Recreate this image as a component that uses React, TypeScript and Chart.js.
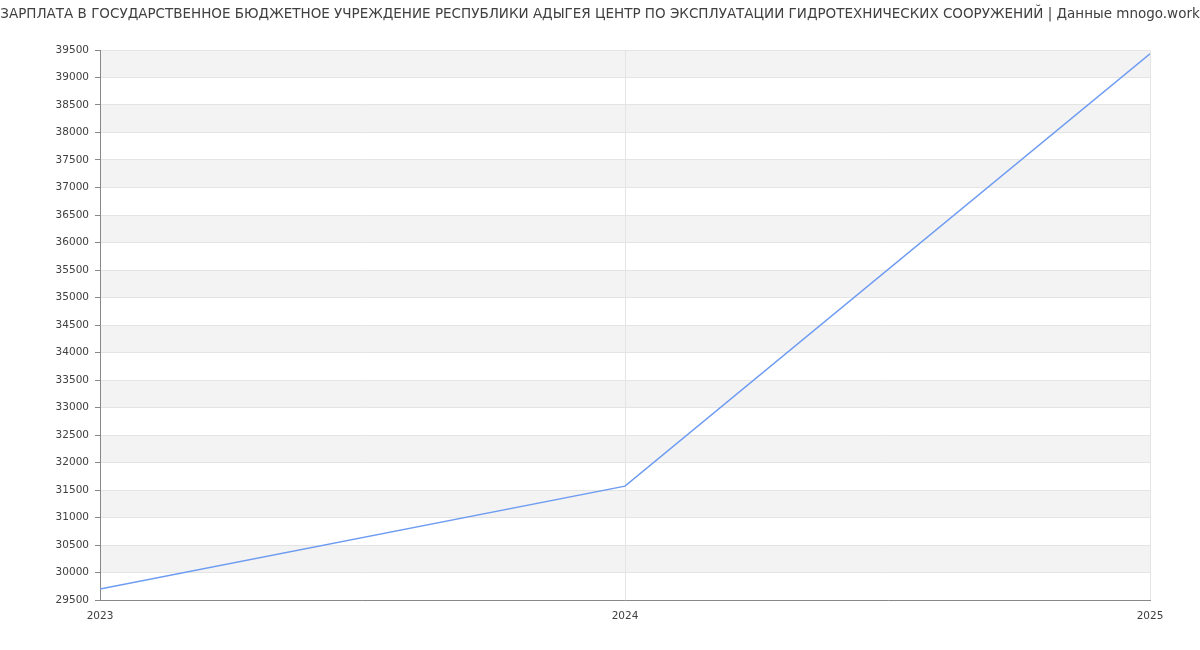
import { useEffect, useRef } from 'react';
import { Chart, registerables, type ChartConfiguration, type Plugin } from 'chart.js';

Chart.register(...registerables);

const TITLE =
  'ЗАРПЛАТА В ГОСУДАРСТВЕННОЕ БЮДЖЕТНОЕ УЧРЕЖДЕНИЕ РЕСПУБЛИКИ АДЫГЕЯ ЦЕНТР ПО ЭКСПЛУАТАЦИИ ГИДРОТЕХНИЧЕСКИХ СООРУЖЕНИЙ | Данные mnogo.work';

const years = [2023, 2024, 2025];
const salary = [29700, 31570, 39430];

const Y_MIN = 29500;
const Y_MAX = 39500;
const Y_STEP = 500;

const FONT = "'DejaVu Sans', sans-serif";

// alternate grey bands between y gridlines (odd intervals counted from the bottom),
// painted before the scales so grid lines and axis stay on top
const bandsPlugin: Plugin<'line'> = {
  id: 'bands',
  beforeDraw(chart) {
    const { ctx, chartArea, scales } = chart;
    const y = scales.y;
    if (!y || !chartArea) return;
    ctx.save();
    ctx.fillStyle = '#f3f3f3';
    let i = 0;
    for (let v = Y_MIN; v < Y_MAX; v += Y_STEP, i++) {
      if (i % 2 === 0) continue;
      const top = y.getPixelForValue(v + Y_STEP);
      const bottom = y.getPixelForValue(v);
      ctx.fillRect(chartArea.left, top, chartArea.right - chartArea.left, bottom - top);
    }
    ctx.restore();
  },
};

// the built-in title is squeezed to the padded box, so draw it across the full canvas width
const titlePlugin: Plugin<'line'> = {
  id: 'wideTitle',
  afterDraw(chart) {
    const { ctx, width } = chart;
    ctx.save();
    ctx.font = `13.5px ${FONT}`;
    ctx.fillStyle = '#404040';
    ctx.textAlign = 'center';
    ctx.textBaseline = 'middle';
    ctx.fillText(TITLE, width / 2, 14);
    ctx.restore();
  },
};

export default function App() {
  const canvasRef = useRef<HTMLCanvasElement>(null);
  const chartRef = useRef<Chart | null>(null);

  useEffect(() => {
    document.body.style.margin = '0';
    if (!canvasRef.current) return;

    const config: ChartConfiguration<'line'> = {
      type: 'line',
      data: {
        datasets: [
          {
            label: 'Зарплата',
            data: years.map((x, i) => ({ x, y: salary[i] })),
            borderColor: '#6d9bf1',
            borderWidth: 1.5,
            pointRadius: 0,
            tension: 0,
            fill: false,
          },
        ],
      },
      options: {
        animation: false,
        responsive: false,
        devicePixelRatio: 1,
        layout: { padding: { left: 0, right: 50, top: 50, bottom: 0 } },
        plugins: {
          legend: { display: false },
          tooltip: { enabled: false },
          title: { display: false },
        },
        scales: {
          x: {
            type: 'linear',
            min: 2023,
            max: 2025,
            ticks: {
              stepSize: 1,
              color: '#404040',
              font: { family: FONT, size: 10.5 },
              padding: 10,
              maxRotation: 0,
              callback: (v) => String(v),
            },
            grid: { color: '#e4e4e4', drawTicks: false },
            border: { color: '#888888' },
            afterFit: (s) => {
              s.height = 50;
            },
          },
          y: {
            min: Y_MIN,
            max: Y_MAX,
            ticks: {
              stepSize: Y_STEP,
              color: '#404040',
              font: { family: FONT, size: 10.5 },
              padding: 6,
              callback: (v) => String(v),
            },
            grid: { color: '#e4e4e4', tickLength: 5, tickColor: '#888888' },
            border: { color: '#888888' },
            afterFit: (s) => {
              s.width = 100;
            },
          },
        },
      },
      plugins: [bandsPlugin, titlePlugin],
    };

    chartRef.current = new Chart(canvasRef.current, config);
    return () => {
      chartRef.current?.destroy();
      chartRef.current = null;
    };
  }, []);

  return (
    <div style={{ width: 1200, height: 650, background: '#fff' }}>
      <canvas ref={canvasRef} width={1200} height={650} />
    </div>
  );
}
